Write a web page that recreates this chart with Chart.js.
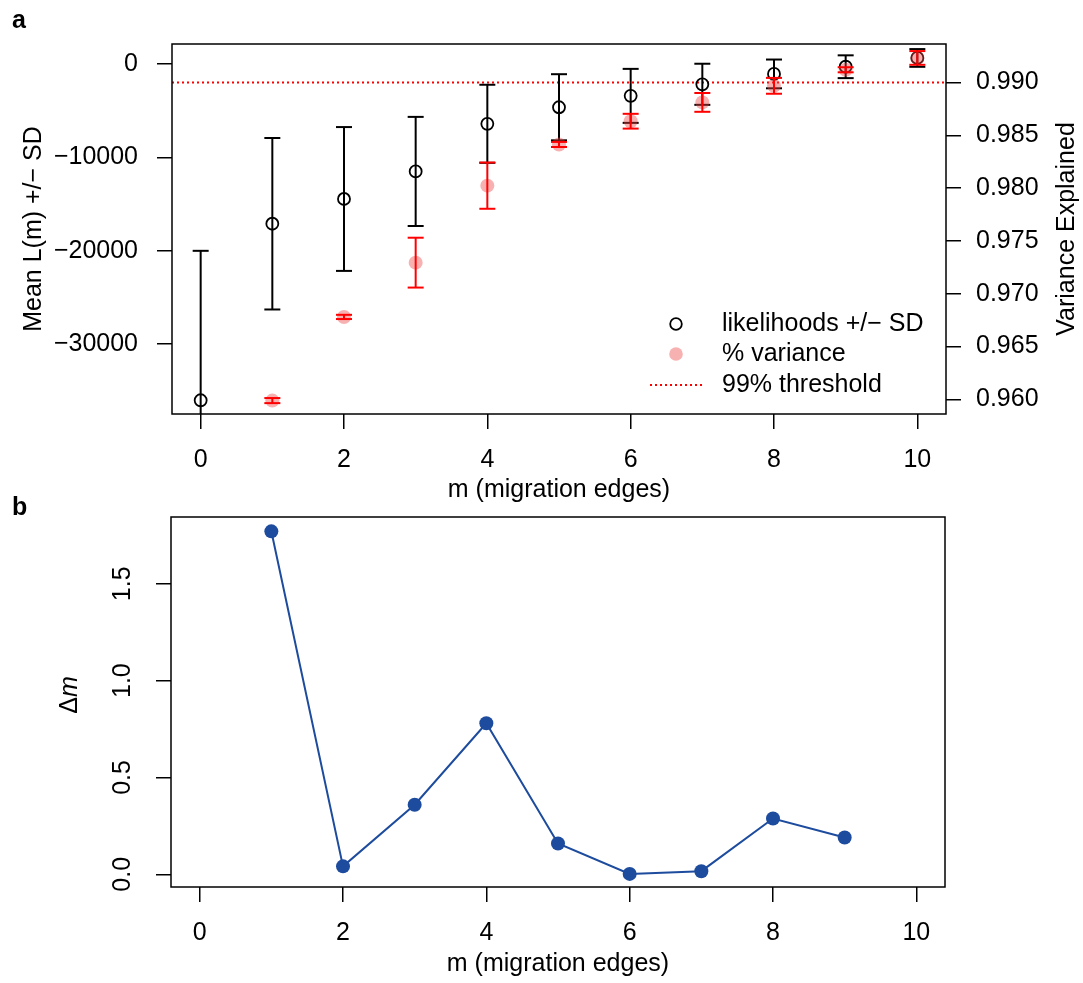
<!DOCTYPE html>
<html><head><meta charset="utf-8">
<script src="https://cdn.jsdelivr.net/npm/chart.js@4.4.1/dist/chart.umd.min.js"></script>
<style>
html,body{margin:0;padding:0;background:#fff;overflow:hidden;width:1083px;height:983px;}
#wrap{position:relative;width:1083px;height:983px;background:#fff;}
canvas{position:absolute;left:0;}
.lab{position:absolute;font:bold 25px "Liberation Sans",Arial,Helvetica,sans-serif;line-height:1;color:#000;}
</style></head><body>
<div id="wrap">
<canvas id="top" width="1083" height="520" style="top:0;width:1083px;height:520px"></canvas>
<canvas id="bot" width="1083" height="483" style="top:500px;width:1083px;height:483px"></canvas>
<div class="lab" style="left:12px;top:7px">a</div>
<div class="lab" style="left:12px;top:494px">b</div>
</div>
<script>
// ---------------- data ----------------
const mEdges   = [0, 1, 2, 3, 4, 5, 6, 7, 8, 9, 10];
const likMean  = [-36000, -17100, -14450, -11500, -6400, -4630, -3410, -2170, -1060, -290, 650];
const likSD    = [16000, 9180, 7700, 5840, 4180, 3540, 2890, 2200, 1540, 1220, 950];
const varMean  = [null, 0.95988, 0.96780, 0.97294, 0.98023, 0.98413, 0.98633, 0.98811, 0.98968, 0.99120, 0.99232];
const varSD    = [null, 0.00024, 0.00020, 0.00236, 0.00219, 0.00024, 0.00070, 0.00089, 0.00075, 0.00024, 0.00065];
const threshold = 0.99;
const deltaEdges = [1, 2, 3, 4, 5, 6, 7, 8, 9];
const deltaM     = [1.771, 0.041, 0.359, 0.780, 0.159, 0.002, 0.016, 0.288, 0.190];

const xTicks = [0, 2, 4, 6, 8, 10];
const xTickLabels = ['0', '2', '4', '6', '8', '10'];
const likTicks = [-30000, -20000, -10000, 0];
const likTickLabels = ['\u221230000', '\u221220000', '\u221210000', '0'];
const varTicks = [0.960, 0.965, 0.970, 0.975, 0.980, 0.985, 0.990];
const varTickLabels = ['0.960', '0.965', '0.970', '0.975', '0.980', '0.985', '0.990'];
const deltaTicks = [0, 0.5, 1, 1.5];
const deltaTickLabels = ['0.0', '0.5', '1.0', '1.5'];
const legendLabels = ['likelihoods +/\u2212 SD', '% variance', '99% threshold'];
const xTitle = 'm (migration edges)';
const likTitle = 'Mean L(m) +/\u2212 SD';
const varTitle = 'Variance Explained';

// ---------------- styling ----------------
const FAM = '"Liberation Sans", Arial, Helvetica, sans-serif';
const FONT = {family: FAM, size: 25};
const RED = '#ff0000';
const PINK = 'rgba(235,70,70,0.42)';
const BLUE = '#1d4b9d';
const xMin = -0.4, xMax = 10.4;

function tickGrid() {
  return {display: true, drawOnChartArea: false, drawTicks: true, tickLength: 15,
          tickColor: '#000', tickWidth: 1.5, color: '#000', lineWidth: 1.5};
}
function setTicks(vals) { return s => { s.ticks = vals.map(v => ({value: v})); }; }
function fixSize(prop, val) {
  return s => {
    s[prop] = val;
    s.paddingTop = 0; s.paddingBottom = 0; s.paddingLeft = 0; s.paddingRight = 0;
  };
}

function errBars(mean, sd) {
  const pts = [];
  mEdges.forEach((m, i) => {
    if (mean[i] == null) return;
    pts.push({x: m, y: mean[i] - sd[i]}, {x: m, y: mean[i] + sd[i]}, {x: m, y: null});
  });
  return pts;
}
function pts(xs, ys) {
  const out = [];
  xs.forEach((x, i) => { if (ys[i] != null) out.push({x: x, y: ys[i]}); });
  return out;
}

const boxPlugin = {
  id: 'box',
  afterDraw(chart) {
    const {ctx, chartArea: a} = chart;
    ctx.save();
    ctx.strokeStyle = '#000';
    ctx.lineWidth = 1.5;
    ctx.strokeRect(a.left, a.top, a.right - a.left, a.bottom - a.top);
    ctx.restore();
  }
};

const topExtras = {
  id: 'topExtras',
  afterDraw(chart) {
    const ctx = chart.ctx;
    ctx.save();
    ctx.fillStyle = '#000';
    ctx.font = '25px ' + FAM;
    // right axis title
    ctx.save();
    ctx.translate(1067, 229);
    ctx.rotate(-Math.PI / 2);
    ctx.textAlign = 'center';
    ctx.textBaseline = 'middle';
    ctx.fillText(varTitle, 0, 0);
    ctx.restore();
    // legend
    const lx = 676, tx = 722, rows = [324, 354, 385];
    ctx.textAlign = 'left';
    ctx.textBaseline = 'middle';
    legendLabels.forEach((t, i) => ctx.fillText(t, tx, rows[i]));
    ctx.beginPath();
    ctx.arc(lx, rows[0], 5.8, 0, Math.PI * 2);
    ctx.strokeStyle = '#000';
    ctx.lineWidth = 1.8;
    ctx.stroke();
    ctx.beginPath();
    ctx.arc(lx, rows[1], 6.8, 0, Math.PI * 2);
    ctx.fillStyle = PINK;
    ctx.fill();
    ctx.beginPath();
    ctx.setLineDash([2, 3]);
    ctx.moveTo(650, rows[2]);
    ctx.lineTo(702, rows[2]);
    ctx.strokeStyle = RED;
    ctx.lineWidth = 2;
    ctx.stroke();
    ctx.restore();
  }
};

const botExtras = {
  id: 'botExtras',
  afterDraw(chart) {
    const ctx = chart.ctx;
    ctx.save();
    ctx.fillStyle = '#000';
    ctx.translate(70, 195);
    ctx.rotate(-Math.PI / 2);
    ctx.textBaseline = 'middle';
    ctx.textAlign = 'left';
    const f1 = '25px ' + FAM, f2 = 'italic 25px ' + FAM;
    ctx.font = f1; const w1 = ctx.measureText('\u0394').width;
    ctx.font = f2; const w2 = ctx.measureText('m').width;
    const x0 = -(w1 + w2) / 2;
    ctx.font = f1; ctx.fillText('\u0394', x0, 0);
    ctx.font = f2; ctx.fillText('m', x0 + w1, 0);
    ctx.restore();
  }
};

// ---------------- top chart ----------------
new Chart(document.getElementById('top'), {
  type: 'scatter',
  data: {
    datasets: [
      {label: 'var SD', data: errBars(varMean, varSD), yAxisID: 'y2', showLine: true,
       borderColor: RED, borderWidth: 2, pointStyle: 'line', pointRadius: 8,
       pointBorderColor: RED, pointBorderWidth: 2, order: 1},
      {label: 'variance', data: pts(mEdges, varMean), yAxisID: 'y2', showLine: false,
       pointRadius: 7, pointBackgroundColor: PINK, pointBorderWidth: 0, order: 2},
      {label: 'lik SD', data: errBars(likMean, likSD), yAxisID: 'y', showLine: true,
       borderColor: '#000', borderWidth: 2, pointStyle: 'line', pointRadius: 8,
       pointBorderColor: '#000', pointBorderWidth: 2, order: 3},
      {label: 'likelihood', data: pts(mEdges, likMean), yAxisID: 'y', showLine: false,
       pointRadius: 6, pointBackgroundColor: 'rgba(0,0,0,0)', pointBorderColor: '#000',
       pointBorderWidth: 1.8, order: 4},
      {label: 'threshold', data: [{x: xMin, y: threshold}, {x: xMax, y: threshold}], yAxisID: 'y2',
       showLine: true, borderColor: RED, borderWidth: 2, borderDash: [2, 3], pointRadius: 0, order: 5}
    ]
  },
  options: {
    responsive: false, animation: false, events: [], devicePixelRatio: 1,
    layout: {padding: {top: 44, left: 0, right: 0, bottom: 0}, autoPadding: false},
    plugins: {legend: {display: false}, tooltip: {enabled: false}},
    scales: {
      x: {type: 'linear', min: xMin, max: xMax, afterBuildTicks: setTicks(xTicks),
          ticks: {font: FONT, color: '#000', padding: 16, autoSkip: false, maxRotation: 0, minRotation: 0,
                  callback: (v, i) => xTickLabels[i]},
          grid: tickGrid(), border: {display: false},
          title: {display: true, text: xTitle, font: FONT, color: '#000', padding: {top: 0, bottom: 15}},
          afterFit: fixSize('height', 106)},
      y: {type: 'linear', position: 'left', min: -37470, max: 2143, afterBuildTicks: setTicks(likTicks),
          ticks: {font: FONT, color: '#000', padding: 19, autoSkip: false, callback: (v, i) => likTickLabels[i]},
          grid: tickGrid(), border: {display: false},
          title: {display: true, text: likTitle, font: FONT, color: '#000', padding: {top: 19, bottom: 0}},
          afterFit: fixSize('width', 172)},
      y2: {type: 'linear', position: 'right', min: 0.95861, max: 0.99364, afterBuildTicks: setTicks(varTicks),
          ticks: {font: FONT, color: '#000', padding: 15, autoSkip: false, callback: (v, i) => varTickLabels[i]},
          grid: tickGrid(), border: {display: false},
          afterFit: fixSize('width', 137)}
    }
  },
  plugins: [boxPlugin, topExtras]
});

// ---------------- bottom chart ----------------
new Chart(document.getElementById('bot'), {
  type: 'scatter',
  data: {
    datasets: [
      {label: 'delta m', data: pts(deltaEdges, deltaM), showLine: true,
       borderColor: BLUE, borderWidth: 2, pointRadius: 7, pointBackgroundColor: BLUE,
       pointBorderColor: BLUE, pointBorderWidth: 0}
    ]
  },
  options: {
    responsive: false, animation: false, events: [], devicePixelRatio: 1,
    layout: {padding: {top: 17, left: 0, right: 138, bottom: 0}, autoPadding: false},
    plugins: {legend: {display: false}, tooltip: {enabled: false}},
    scales: {
      x: {type: 'linear', min: xMin, max: xMax, afterBuildTicks: setTicks(xTicks),
          ticks: {font: FONT, color: '#000', padding: 16, autoSkip: false, maxRotation: 0, minRotation: 0,
                  callback: (v, i) => xTickLabels[i]},
          grid: tickGrid(), border: {display: false},
          title: {display: true, text: xTitle, font: FONT, color: '#000', padding: {top: 0, bottom: 4}},
          afterFit: fixSize('height', 96)},
      y: {type: 'linear', position: 'left', min: -0.0657, max: 1.845, afterBuildTicks: setTicks(deltaTicks),
          ticks: {font: FONT, color: '#000', padding: 15.6, autoSkip: false, minRotation: 90, maxRotation: 90,
                  crossAlign: 'center', callback: (v, i) => deltaTickLabels[i]},
          grid: tickGrid(), border: {display: false},
          afterFit: fixSize('width', 171)}
    }
  },
  plugins: [boxPlugin, botExtras]
});
</script>
</body></html>
